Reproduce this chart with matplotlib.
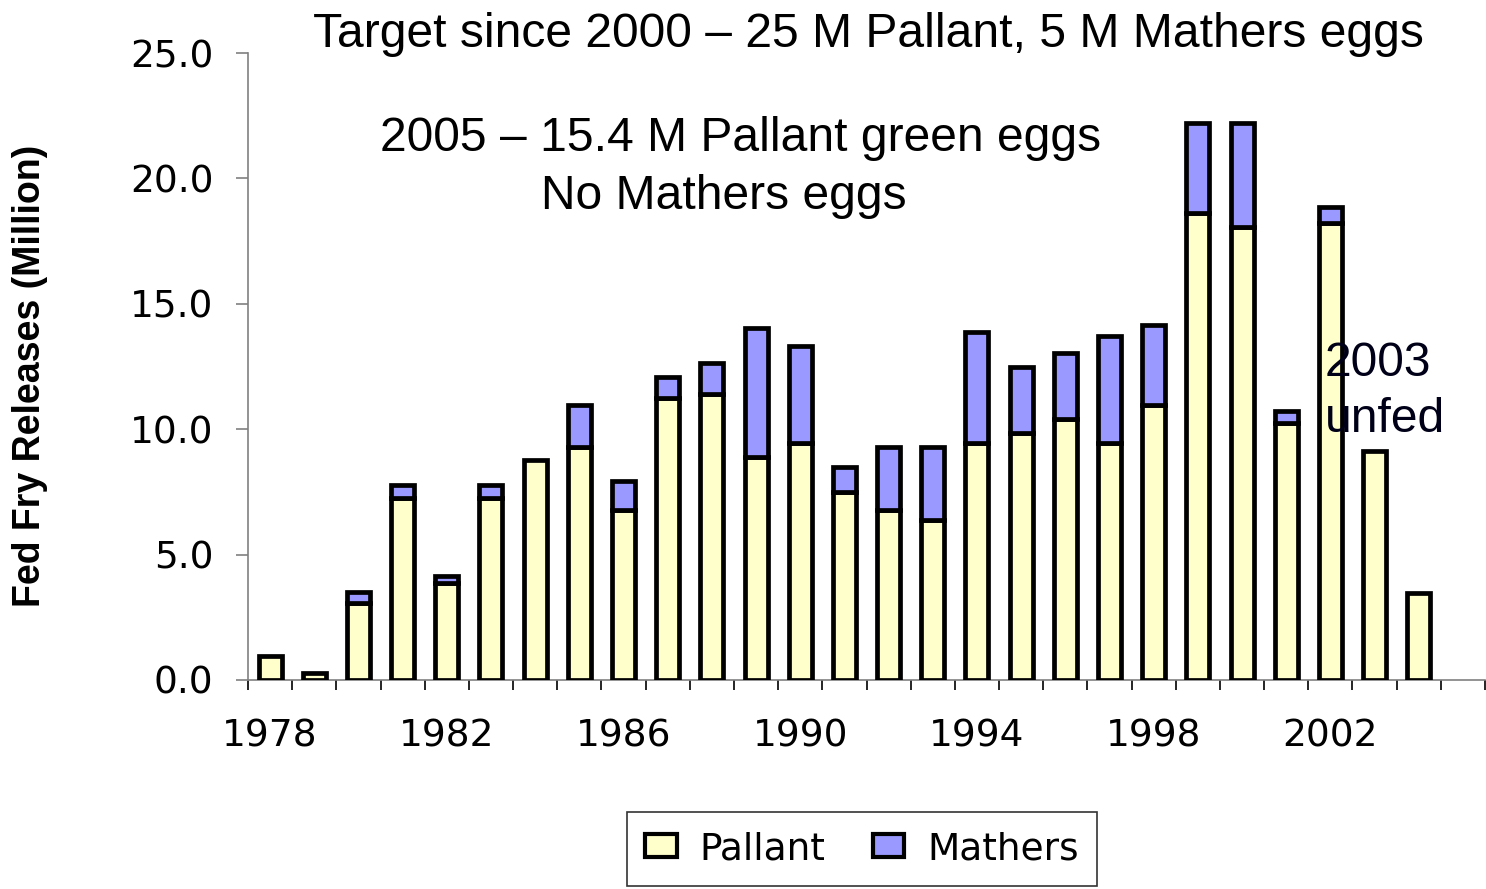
import numpy as np
import matplotlib as mpl
mpl.use('Agg')
import matplotlib.pyplot as plt
from matplotlib.patches import Patch

# data (million fed fry), 2005 slot is left empty
years = list(range(1978, 2005))
pallant = [0.95, 0.28, 3.07, 7.26, 3.87, 7.26, 8.77, 9.29, 6.78, 11.24, 11.40, 8.89, 9.45, 7.50,
           6.78, 6.38, 9.45, 9.85, 10.41, 9.45, 10.96, 18.62, 18.06, 10.25, 18.22, 9.13, 3.47]
total = [0.95, 0.28, 3.50, 7.78, 4.15, 7.78, 8.77, 10.96, 7.93, 12.08, 12.64, 14.04, 13.32, 8.49,
         9.29, 9.29, 13.88, 12.48, 13.04, 13.72, 14.15, 22.20, 22.20, 10.73, 18.86, 9.13, 3.47]
mathers = [t - p for t, p in zip(total, pallant)]
year_labels = ['1978', '1982', '1986', '1990', '1994', '1998', '2002']
n_slots = len(years) + 1

c_pal = '#FFFFCC'
c_mat = '#9999FF'
grey = '#808080'

fig = plt.figure(figsize=(14.86, 8.89), dpi=100)
ax = fig.add_axes([248/1486, 1-680/889, (1485-248)/1486, (680-53)/889])

x = np.arange(len(years))
ax.bar(x, pallant, width=0.52, color=c_pal, edgecolor='k', linewidth=3.4, zorder=3)
m = np.array(mathers) > 0
ax.bar(x[m], np.array(mathers)[m], bottom=np.array(pallant)[m], width=0.52, color=c_mat,
       edgecolor='k', linewidth=3.4, zorder=3)

ax.set_xlim(-0.5, n_slots - 0.5)
ax.set_ylim(0, 25)
yt = np.arange(0, 25.1, 5)
ax.set_yticks(yt)
ax.set_yticklabels(['%.1f' % v for v in yt], family='DejaVu Sans', fontsize=27)

# labels at bar centres, tick marks between categories
lab_pos = [years.index(int(y)) for y in year_labels]
ax.set_xticks(lab_pos)
ax.set_xticklabels(year_labels, family='DejaVu Sans', fontsize=27)
ax.set_xticks(np.arange(-0.5, n_slots, 1), minor=True)
ax.tick_params(axis='x', which='major', length=0, pad=28)
ax.tick_params(axis='x', which='minor', length=7, width=1.2, color='k', direction='out')
ax.tick_params(axis='y', length=9, width=1.2, color=grey, pad=16)

for s in ['top', 'right']:
    ax.spines[s].set_visible(False)
for s in ['left', 'bottom']:
    ax.spines[s].set_color(grey)
    ax.spines[s].set_linewidth(1.2)

fig.text(30/1486, 1-376/889, 'Fed Fry Releases (Million)', rotation=90, ha='center', va='center',
         family='Liberation Sans', fontweight='bold', fontsize=27)

fs = 34.6
fig.text(313/1486, 1-47/889, 'Target since 2000 \u2013 25 M Pallant, 5 M Mathers eggs',
         family='Liberation Sans', fontsize=fs, va='baseline', ha='left')
fig.text(380/1486, 1-151/889, '2005 \u2013 15.4 M Pallant green eggs',
         family='Liberation Sans', fontsize=fs, va='baseline', ha='left')
fig.text(541/1486, 1-209/889, 'No Mathers eggs',
         family='Liberation Sans', fontsize=fs, va='baseline', ha='left')
fig.text(1325/1486, 1-376/889, '2003', color='#000018',
         family='Liberation Sans', fontsize=fs, va='baseline', ha='left')
fig.text(1325/1486, 1-432/889, 'unfed', color='#000018',
         family='Liberation Sans', fontsize=fs, va='baseline', ha='left')

handles = [Patch(facecolor=c_pal, edgecolor='k', linewidth=3), Patch(facecolor=c_mat, edgecolor='k', linewidth=3)]
leg = fig.legend(handles, ['Pallant', 'Mathers'], loc='center', bbox_to_anchor=(862/1486, 1-849/889),
                 ncol=2, prop={'family': 'DejaVu Sans', 'size': 27}, frameon=True, fancybox=False,
                 edgecolor='k', handlelength=0.85, handleheight=0.55, handletextpad=0.6,
                 columnspacing=1.25, borderpad=0.5, borderaxespad=0)
leg.get_frame().set_linewidth(1.2)
leg._legend_box.sep = 0
leg.set_draggable(False)

fig.savefig('out.png', dpi=100)
